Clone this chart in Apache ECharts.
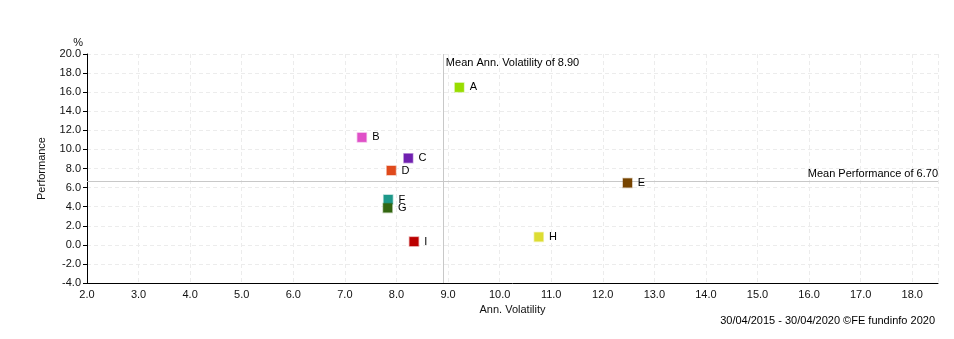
<!DOCTYPE html>
<html>
<head>
<meta charset="utf-8">
<script src="https://cdn.jsdelivr.net/npm/echarts@6/dist/echarts.min.js"></script>
<style>html,body{margin:0;padding:0;background:#fff}#c{width:954px;height:339px}</style>
</head>
<body>
<div id="c"></div>
<script>
const names = ['A','B','C','D','E','F','G','H','I'];
const volatility = [9.22, 7.33, 8.23, 7.90, 12.48, 7.84, 7.83, 10.76, 8.34];
const performance = [16.5, 11.26, 9.08, 7.79, 6.49, 4.75, 3.87, 0.83, 0.34];
const colors = ['#99dd00','#e050c8','#7020b0','#e04a1c','#774400','#1e998a','#336611','#dddd33','#bb0000'];
const meanVol = 8.90;
const meanPerf = 6.70;
const xMin = 2, xMax = 18.5, yMin = -4, yMax = 20;
const footer = '30/04/2015 - 30/04/2020 \u00A9FE fundinfo 2020';

const FONT = 'Liberation Sans';
const chart = echarts.init(document.getElementById('c'), null, {renderer:'canvas'});

function hexA(h, a){
  const r=parseInt(h.slice(1,3),16),g=parseInt(h.slice(3,5),16),b=parseInt(h.slice(5,7),16);
  return 'rgba('+r+','+g+','+b+','+a+')';
}

const pts = names.map((n,i)=>({
  name:n, value:[volatility[i], performance[i]],
  itemStyle:{color:colors[i], opacity:1, borderColor:hexA(colors[i],0.35), borderWidth:1.5}
}));

chart.setOption({
  animation:false,
  textStyle:{fontFamily:FONT},
  title:{text:footer, right:14, bottom:8, textStyle:{fontSize:11, fontWeight:'normal', color:'#000', fontFamily:FONT}},
  grid:{left:87, top:54, right:16, bottom:56, containLabel:false},
  xAxis:{
    type:'value', min:xMin, max:xMax, interval:1,
    name:'Ann. Volatility', nameLocation:'middle', nameGap:20,
    nameTextStyle:{fontSize:11, color:'#111', fontFamily:FONT},
    axisLine:{show:true, onZero:false, lineStyle:{color:'#000', width:1}},
    axisTick:{show:false},
    axisLabel:{fontSize:11, color:'#111', margin:6, fontFamily:FONT,
      formatter:v=> (Math.abs(v-Math.round(v))<1e-9 ? v.toFixed(1) : '')},
    splitLine:{show:true, lineStyle:{color:'#ececec', type:[4,3]}}
  },
  yAxis:[{
    type:'value', min:yMin, max:yMax, interval:2,
    name:'%', nameLocation:'end', nameGap:6,
    nameTextStyle:{fontSize:11, color:'#111', align:'right', padding:[0,4,0,0], fontFamily:FONT},
    axisLine:{show:true, onZero:false, lineStyle:{color:'#000', width:1}},
    axisTick:{show:true, length:4, lineStyle:{color:'#000'}},
    axisLabel:{fontSize:11, color:'#111', margin:6, fontFamily:FONT, formatter:v=>v.toFixed(1)},
    splitLine:{show:true, lineStyle:{color:'#ececec', type:[4,3]}}
  },{
    type:'value', min:yMin, max:yMax, position:'left',
    name:'Performance', nameLocation:'middle', nameGap:40,
    nameTextStyle:{fontSize:11, color:'#111', fontFamily:FONT},
    axisLine:{show:false}, axisTick:{show:false}, axisLabel:{show:false}, splitLine:{show:false}
  }],
  series:[{
    type:'scatter', symbol:'rect', symbolSize:9, z:5,
    data:pts,
    label:{show:true, position:'right', distance:5, formatter:'{b}', fontSize:11, color:'#000', fontFamily:FONT},
    markLine:{
      silent:true, symbol:'none', animation:false,
      lineStyle:{color:'#c8c8c8', type:'solid', width:1, opacity:1},
      label:{show:false},
      data:[{xAxis:meanVol},{yAxis:meanPerf}]
    }
  },{
    type:'scatter', symbolSize:0, silent:true, z:6,
    itemStyle:{opacity:1},
    data:[
      {name:'Mean Ann. Volatility of '+meanVol.toFixed(2), value:[meanVol, yMax],
       label:{position:[3,3], align:'left', verticalAlign:'top'}},
      {name:'Mean Performance of '+meanPerf.toFixed(2), value:[xMax, meanPerf],
       label:{position:[0,-1], align:'right', verticalAlign:'bottom'}}
    ],
    label:{show:true, formatter:'{b}', fontSize:11, color:'#000', fontFamily:FONT}
  }]
});
</script>
</body>
</html>
